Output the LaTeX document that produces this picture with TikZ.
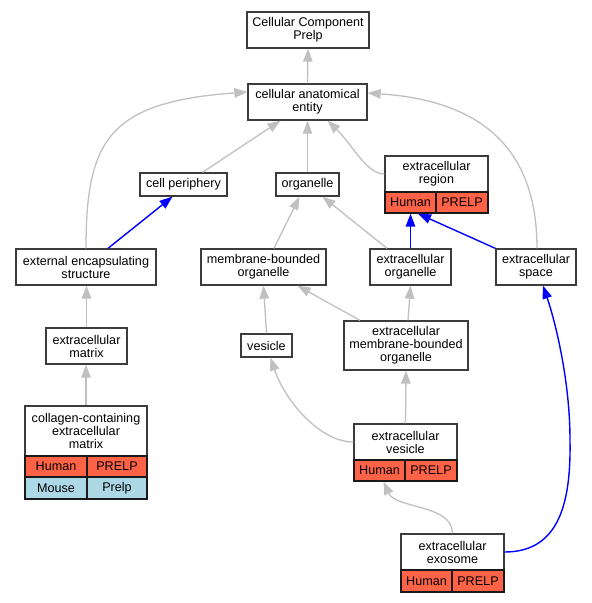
\documentclass[tikz,border=0pt]{standalone}
\usepackage{fontspec}
\setmainfont{Liberation Sans}
\usetikzlibrary{arrows.meta,calc}
\definecolor{edgegray}{RGB}{192,192,192}
\definecolor{humanred}{RGB}{255,99,71}
\definecolor{mouseblue}{RGB}{173,216,230}
\definecolor{boxline}{RGB}{60,60,60}
\tikzset{
  box/.style={draw=boxline, line width=1.3pt, fill=white, inner sep=0pt, align=center,
    font=\fontsize{12.6}{13}\selectfont},
  hcell/.style={box, fill=humanred, draw=black!90},
  mcell/.style={box, fill=mouseblue, draw=black!90},
  isa/.style={draw=edgegray, line width=1.3pt, -{Triangle[length=13pt,width=9.5pt]}},
  partof/.style={draw=blue, line width=1.4pt, -{Triangle[length=13pt,width=9.5pt]}},
}
\begin{document}
\begin{tikzpicture}[x=1pt,y=-1pt]
\useasboundingbox (0,0) rectangle (592,603);
% nodes
\node[box, minimum width=122pt, minimum height=36pt] (ccp) at (308,30) {Cellular Component\\Prelp};
\node[box, minimum width=119pt, minimum height=36pt] (cae) at (307.5,102) {cellular anatomical\\entity};
\node[box, minimum width=87pt, minimum height=23pt] (cp) at (183.5,184.5) {cell periphery};
\node[box, minimum width=63pt, minimum height=23pt] (org) at (307.5,184.5) {organelle};
\node[box, minimum width=103pt, minimum height=36pt] (erT) at (436.5,174) {extracellular\\region};
\node[hcell, minimum width=51pt, minimum height=21pt] (erH) at (410.5,202.5) {Human};
\node[hcell, minimum width=52pt, minimum height=21pt] (erP) at (462,202.5) {PRELP};
\node[box, minimum width=140pt, minimum height=36pt] (ees) at (86,267) {external encapsulating\\structure};
\node[box, minimum width=125pt, minimum height=36pt] (mbo) at (263.5,267) {membrane-bounded\\organelle};
\node[box, minimum width=81pt, minimum height=36pt] (eo) at (410.5,267) {extracellular\\organelle};
\node[box, minimum width=80pt, minimum height=36pt] (es) at (536,267) {extracellular\\space};
\node[box, minimum width=81pt, minimum height=36pt] (em) at (86.5,346) {extracellular\\matrix};
\node[box, minimum width=51pt, minimum height=23pt] (ves) at (266.5,345.5) {vesicle};
\node[box, minimum width=124pt, minimum height=49pt] (embo) at (406,345.5) {extracellular\\membrane-bounded\\organelle};
\node[box, minimum width=122pt, minimum height=50pt] (cecmT) at (86,431) {collagen-containing\\extracellular\\matrix};
\node[hcell, minimum width=62pt, minimum height=21pt] (cecmH) at (56,466.5) {Human};
\node[hcell, minimum width=60pt, minimum height=21pt] (cecmP) at (117,466.5) {PRELP};
\node[mcell, minimum width=62pt, minimum height=22pt] (cecmM) at (56,488) {Mouse};
\node[mcell, minimum width=60pt, minimum height=22pt] (cecmMP) at (117,488) {Prelp};
\node[box, minimum width=103pt, minimum height=36pt] (evT) at (405.5,442) {extracellular\\vesicle};
\node[hcell, minimum width=51pt, minimum height=21pt] (evH) at (379.5,470.5) {Human};
\node[hcell, minimum width=52pt, minimum height=21pt] (evP) at (431,470.5) {PRELP};
\node[box, minimum width=103pt, minimum height=36pt] (exoT) at (452.5,552) {extracellular\\exosome};
\node[hcell, minimum width=51pt, minimum height=22pt] (exoH) at (426.5,581) {Human};
\node[hcell, minimum width=52pt, minimum height=22pt] (exoP) at (478,581) {PRELP};
% is_a edges
\draw[isa] (cae.north) -- (ccp.south);
\draw[isa] (org.north) -- (cae.south);
\draw[isa] ([xshift=19pt]cp.north) -- ([xshift=-27pt]cae.south);
\draw[isa] (erT.west) .. controls +(-18,0) and +(25,24) .. ([xshift=20pt]cae.south);
\draw[isa] ([xshift=1pt]es.north) .. controls +(0,-109) and +(103,7) .. ([yshift=9pt]cae.east);
\draw[isa] (ees.north) .. controls +(0,-109) and +(-138,10) .. ([yshift=10pt]cae.west);
\draw[isa] ([xshift=10.5pt]mbo.north) -- ([xshift=-8pt]org.south);
\draw[isa] ([xshift=-23.5pt]eo.north) -- ([xshift=15pt]org.south);
\draw[isa] (em.north) -- (em.north |- ees.south);
\draw[isa] (cecmT.north) -- (cecmT.north |- em.south);
\draw[isa] (ves.north) -- (mbo.south);
\draw[isa] ([xshift=-46pt]embo.north) -- ([xshift=34pt]mbo.south);
\draw[isa] ([xshift=2pt]embo.north) -- (eo.south);
\draw[isa] (evT.north) -- (embo.south);
\draw[isa] (evT.west) .. controls +(-34,0) and +(14,42) .. ([xshift=4pt]ves.south);
\draw[isa] (exoT.north) .. controls +(0,-29) and +(12,27) .. ([xshift=4pt]evH.south);
% part_of edges
\draw[partof] ([xshift=22pt]ees.north) -- ([xshift=-11pt]cp.south);
\draw[partof] (eo.north) -- (erH.south);
\draw[partof] (es.north west) -- ([xshift=7.5pt]erH.south);
\draw[partof] (exoT.east) .. controls +(56,0) and +(1,60) .. (570,440)
  .. controls +(0,-60) and +(12,35) .. ([xshift=7pt]es.south);
\end{tikzpicture}
\end{document}
